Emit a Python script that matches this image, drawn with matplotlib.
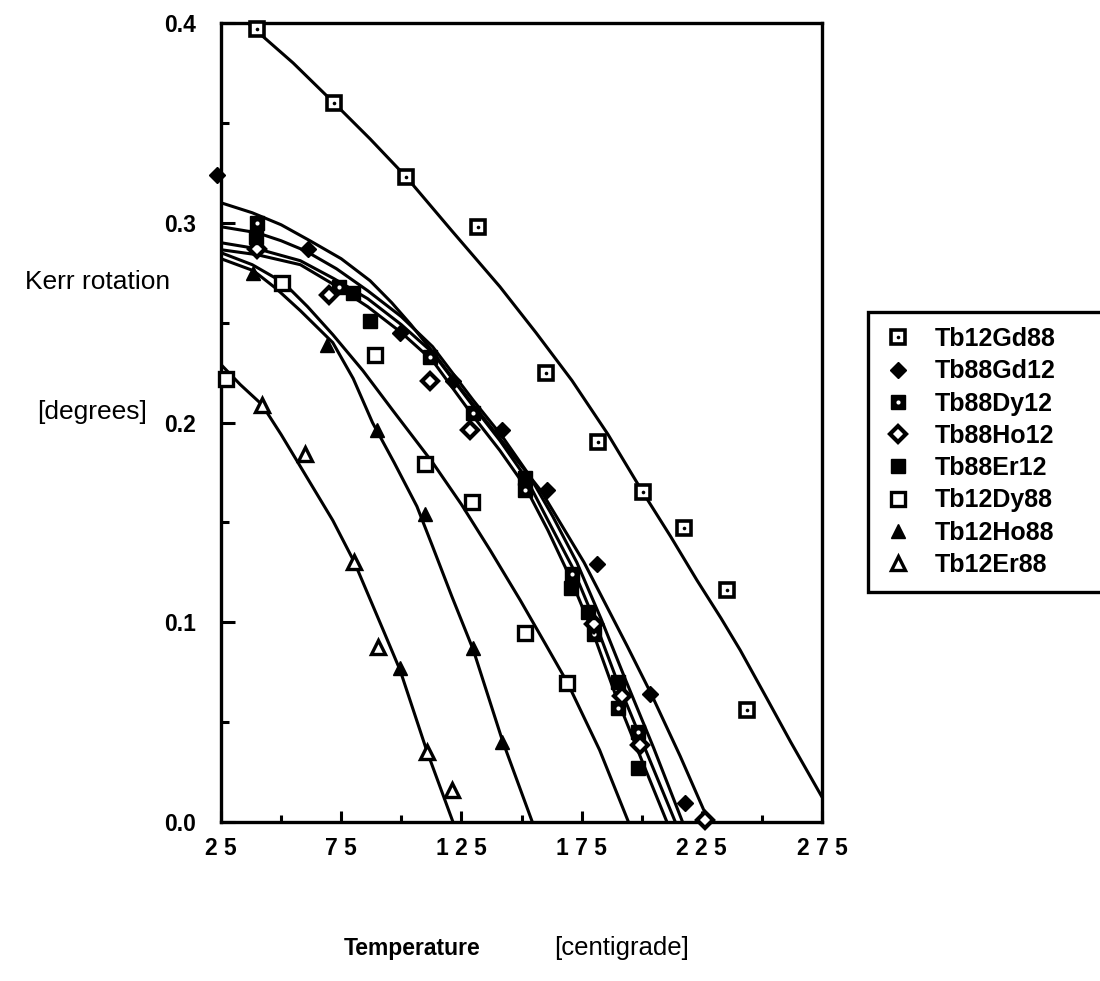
import matplotlib
matplotlib.use("Agg")
import matplotlib.pyplot as plt
from matplotlib.lines import Line2D

plt.rcParams['font.family'] = ['Liberation Sans', 'DejaVu Sans']

# --- measured points: temperature [C], Kerr rotation [deg] ---
t_gd88 = [40, 72, 102, 132, 160, 182, 200.5, 217.5, 235.5, 244]
k_gd88 = [0.397, 0.360, 0.323, 0.298, 0.225, 0.190, 0.165, 0.147, 0.116, 0.056]

t_gd12 = [23.5, 61, 99.5, 121.5, 142, 160.5, 181.5, 203.5, 218]
k_gd12 = [0.324, 0.287, 0.245, 0.221, 0.196, 0.166, 0.129, 0.064, 0.0095]

t_dy12 = [40, 74, 112, 130, 151.5, 171, 180, 190, 198.5]
k_dy12 = [0.300, 0.268, 0.233, 0.205, 0.166, 0.124, 0.094, 0.057, 0.045]

t_ho12 = [40, 70, 112, 128.5, 180, 192, 199.5, 226.5]
k_ho12 = [0.287, 0.264, 0.221, 0.196, 0.099, 0.063, 0.0385, 0.001]

t_er12 = [39.5, 80, 87, 151.5, 170.5, 177.5, 190, 198.5]
k_er12 = [0.293, 0.265, 0.251, 0.172, 0.117, 0.105, 0.070, 0.027]

t_dy88 = [27, 50.5, 89, 110, 129.5, 151.5, 169]
k_dy88 = [0.222, 0.270, 0.234, 0.179, 0.160, 0.0946, 0.0696]

t_ho88 = [38.5, 69, 90, 99.5, 110, 130, 142]
k_ho88 = [0.275, 0.239, 0.196, 0.077, 0.154, 0.087, 0.040]

t_er88 = [42, 60, 80.5, 90.5, 110.5, 121]
k_er88 = [0.209, 0.184, 0.130, 0.0876, 0.035, 0.016]

# --- fitted curves ---
ft_gd88 = [37, 55, 72, 87, 102, 121, 141, 156, 171, 186, 200.5, 212, 223, 233, 241, 252, 262, 275]
fk_gd88 = [0.399, 0.380, 0.360, 0.342, 0.323, 0.296, 0.268, 0.245, 0.221, 0.194, 0.165,
           0.143, 0.121, 0.102, 0.086, 0.062, 0.040, 0.0125]
ft_gd12 = [25, 38, 50, 62, 75, 87, 96, 104, 114, 124, 141, 158, 176, 194, 204, 216, 228]
fk_gd12 = [0.310, 0.305, 0.299, 0.291, 0.282, 0.271, 0.260, 0.249, 0.234, 0.218, 0.192,
           0.166, 0.130, 0.088, 0.064, 0.033, 0.0]
ft_dy12 = [25, 40, 50, 60, 73, 86, 100, 113, 130, 142, 153, 163, 173, 183, 193, 205, 217]
fk_dy12 = [0.298, 0.295, 0.291, 0.286, 0.277, 0.266, 0.253, 0.238, 0.211, 0.193, 0.174,
           0.153, 0.130, 0.102, 0.072, 0.037, 0.0]
ft_ho12 = [25, 40, 58, 72, 86, 100, 113, 130, 141, 152, 161, 171, 180, 190, 202, 214]
fk_ho12 = [0.290, 0.287, 0.281, 0.272, 0.262, 0.249, 0.235, 0.208, 0.191, 0.172, 0.151,
           0.128, 0.102, 0.070, 0.035, 0.0]
ft_er12 = [25, 40, 58, 72, 86, 100, 113, 130, 141, 151.5, 161, 170, 180, 189, 200, 210.5]
fk_er12 = [0.2865, 0.284, 0.279, 0.269, 0.258, 0.245, 0.231, 0.203, 0.186, 0.168, 0.146,
           0.123, 0.094, 0.064, 0.031, 0.0]
ft_dy88 = [25, 38, 51, 61, 71.5, 84, 96.5, 113, 125, 137, 149.5, 160, 169, 182.5, 194.5]
fk_dy88 = [0.285, 0.279, 0.270, 0.258, 0.244, 0.226, 0.206, 0.180, 0.159, 0.136, 0.111,
           0.089, 0.070, 0.036, 0.0]
ft_ho88 = [25, 38.5, 48, 58, 71.5, 80, 88, 97, 106.5, 113, 121, 130, 142, 154.5]
fk_ho88 = [0.282, 0.276, 0.267, 0.256, 0.240, 0.222, 0.200, 0.180, 0.158, 0.138, 0.113,
           0.086, 0.041, 0.0]
ft_er88 = [25, 33, 42, 50, 58, 71.5, 80.5, 92.5, 99.5, 110.5, 121.5]
fk_er88 = [0.229, 0.219, 0.209, 0.194, 0.178, 0.151, 0.130, 0.096, 0.076, 0.036, 0.0]

x_major = [25, 75, 125, 175, 225, 275]
x_labels = ['2 5', '7 5', '1 2 5', '1 7 5', '2 2 5', '2 7 5']
y_major = [0.0, 0.1, 0.2, 0.3, 0.4]
y_labels = ['0.0', '0.1', '0.2', '0.3', '0.4']

fig = plt.figure(figsize=(11, 9.81), dpi=100)
ax = fig.add_axes([221 / 1100, 1 - 822 / 981, 601 / 1100, 799 / 981])

lw = 2.2
for ft, fk in [(ft_gd88, fk_gd88), (ft_gd12, fk_gd12), (ft_dy12, fk_dy12),
               (ft_ho12, fk_ho12), (ft_er12, fk_er12), (ft_dy88, fk_dy88),
               (ft_ho88, fk_ho88), (ft_er88, fk_er88)]:
    ax.plot(ft, fk, color='black', lw=lw, solid_joinstyle='round',
            solid_capstyle='round', zorder=2)

ms = 9.5
# each entry: data, marker styles drawn on top of each other, label
series = [
    (t_gd88, k_gd88, [dict(marker='s', mfc='white', mec='black', mew=2.6, ms=ms),
                      dict(marker='o', mfc='black', mec='black', mew=0, ms=2.6)], 'Tb12Gd88'),
    (t_gd12, k_gd12, [dict(marker='D', mfc='black', mec='black', mew=1, ms=ms - 1)], 'Tb88Gd12'),
    (t_dy12, k_dy12, [dict(marker='s', mfc='black', mec='black', mew=1, ms=ms),
                      dict(marker='o', mfc='white', mec='white', mew=0, ms=3)], 'Tb88Dy12'),
    (t_ho12, k_ho12, [dict(marker='D', mfc='white', mec='black', mew=3.0, ms=ms - 1)], 'Tb88Ho12'),
    (t_er12, k_er12, [dict(marker='s', mfc='black', mec='black', mew=1, ms=ms)], 'Tb88Er12'),
    (t_dy88, k_dy88, [dict(marker='s', mfc='white', mec='black', mew=2.4, ms=ms)], 'Tb12Dy88'),
    (t_ho88, k_ho88, [dict(marker='^', mfc='black', mec='black', mew=1, ms=ms + 1)], 'Tb12Ho88'),
    (t_er88, k_er88, [dict(marker='^', mfc='white', mec='black', mew=2.4, ms=ms + 1)], 'Tb12Er88'),
]

handles, labels = [], []
for t, k, styles, lab in series:
    hs = []
    for st in styles:
        ax.plot(t, k, ls='none', clip_on=False, zorder=3, **st)
        hs.append(Line2D([], [], ls='none', **st))
    handles.append(tuple(hs))
    labels.append(lab)

ax.set_xlim(25, 275)
ax.set_ylim(0.0, 0.4)
ax.set_xticks(x_major)
ax.set_xticklabels(x_labels)
ax.set_xticks([50, 100, 150, 200, 250], minor=True)
ax.set_yticks(y_major)
ax.set_yticklabels(y_labels)
ax.set_yticks([0.05, 0.15, 0.25, 0.35], minor=True)

ax.tick_params(axis='both', which='both', direction='in', width=2.2, top=False, right=False)
ax.tick_params(axis='x', which='major', length=8, pad=11, labelsize=16.5)
ax.tick_params(axis='x', which='minor', length=5)
ax.tick_params(axis='y', which='major', length=10, pad=18, labelsize=16.5)
ax.tick_params(axis='y', which='minor', length=6)
for lbl in ax.get_xticklabels() + ax.get_yticklabels():
    lbl.set_fontweight('bold')
for sp in ax.spines.values():
    sp.set_linewidth(2.4)

fig.text(98 / 1100, 1 - 282 / 981, 'Kerr rotation', ha='center', va='center', fontsize=19)
fig.text(92 / 1100, 1 - 412 / 981, '[degrees]', ha='center', va='center', fontsize=19)
fig.text(412 / 1100, 1 - 948 / 981, 'Temperature', ha='center', va='center',
         fontsize=16.5, fontweight='bold')
fig.text(622 / 1100, 1 - 948 / 981, '[centigrade]', ha='center', va='center', fontsize=18.5)

leg = fig.legend(handles, labels, loc='upper left',
                 bbox_to_anchor=(868 / 1100, 1 - 322 / 981, 250 / 1100, 0.01),
                 mode='expand', frameon=True, fancybox=False, framealpha=1,
                 edgecolor='black', fontsize=18, labelspacing=0.33,
                 handlelength=1.2, handletextpad=0.88, borderpad=0.6,
                 borderaxespad=0)
leg.get_frame().set_linewidth(2.4)
for txt in leg.get_texts():
    txt.set_fontweight('bold')

fig.savefig('out.png', dpi=100)
